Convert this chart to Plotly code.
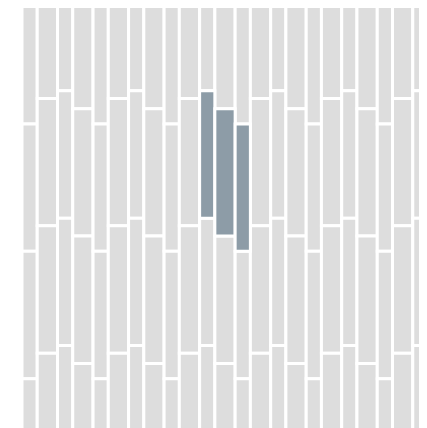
import plotly.graph_objects as go

# column widths (narrow / wide, alternating) in grid units
column_widths = [3, 4] * 11 + [3]
# where the first brick joint sits in each column, as a fraction of one brick
joint_phases = [0.91, 0.71, 0.65, 0.79] * 6
joint_phases = joint_phases[: len(column_widths)]
# highlighted bricks: (column index, brick index counted from the top)
highlighted = [(10, 1), (11, 1), (12, 1)]

brick_length = 1.0
y_span = 3.36

GRAY = "#dddddd"
HIGHLIGHT = "#8d9ca7"

x_centers = []
left = 0
for w in column_widths:
    x_centers.append(left + w / 2)
    left += w

gray = {"x": [], "w": [], "base": [], "len": []}
hl = {"x": [], "w": [], "base": [], "len": []}

for i, (xc, w, ph) in enumerate(zip(x_centers, column_widths, joint_phases)):
    # start one brick above the top so the cut-off bricks run past the frame
    top = ph - brick_length
    j = 0
    while top < y_span:
        target = hl if (i, j) in highlighted else gray
        target["x"].append(xc)
        target["w"].append(w)
        target["base"].append(top)
        target["len"].append(brick_length)
        top += brick_length
        j += 1

fig = go.Figure()
for d, color in [(gray, GRAY), (hl, HIGHLIGHT)]:
    fig.add_trace(
        go.Bar(
            x=d["x"],
            y=d["len"],
            base=d["base"],
            width=d["w"],
            marker=dict(color=color, line=dict(color="white", width=3)),
            hoverinfo="skip",
            showlegend=False,
        )
    )

fig.update_layout(
    width=427,
    height=428,
    margin=dict(l=14, r=7, t=0, b=0),
    barmode="overlay",
    plot_bgcolor="white",
    paper_bgcolor="white",
    xaxis=dict(range=[0, sum(column_widths)], visible=False, fixedrange=True),
    yaxis=dict(range=[y_span, 0], visible=False, fixedrange=True),
)

fig.write_html("out.html")
